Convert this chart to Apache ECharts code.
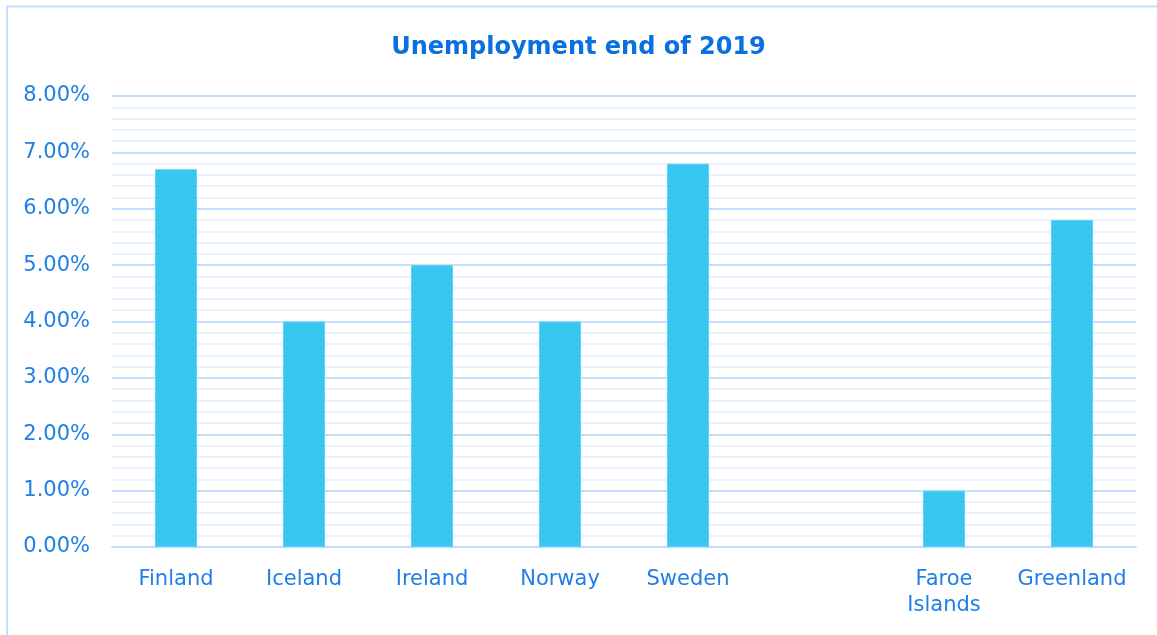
<!DOCTYPE html>
<html>
<head>
<meta charset="utf-8">
<script src="https://cdn.jsdelivr.net/npm/echarts@6/dist/echarts.min.js"></script>
<style>
  html, body { margin: 0; padding: 0; background: #fff; }
  #box { width: 1157px; height: 635px; }
</style>
</head>
<body>
<div id="box"></div>
<script>
// values
const countries = ['Finland', 'Iceland', 'Ireland', 'Norway', 'Sweden', '', 'Faroe Islands', 'Greenland'];
const unemployment = [0.067, 0.04, 0.05, 0.04, 0.068, null, 0.01, 0.058];

const blue = '#1f7fe6';
const chart = echarts.init(document.getElementById('box'));

chart.setOption({
  animation: false,
  title: {
    text: 'Unemployment end of 2019',
    left: 'center',
    top: 31,
    textStyle: { color: '#0a6fe0', fontSize: 24, fontWeight: 'bold', fontFamily: 'DejaVu Sans' }
  },
  graphic: [{
    type: 'rect',
    shape: { x: 7, y: 6.5, width: 1160, height: 640 },
    style: { fill: 'none', stroke: '#c3dffd', lineWidth: 2 },
    silent: true
  }],
  grid: { left: 112, right: 21, top: 96, bottom: 88 },
  xAxis: {
    type: 'category',
    data: countries,
    axisTick: { show: false },
    axisLine: { lineStyle: { color: '#c3dffd', width: 2 } },
    axisLabel: {
      interval: 0,
      color: blue,
      fontSize: 21,
      fontFamily: 'DejaVu Sans',
      margin: 20,
      lineHeight: 26,
      formatter: v => v.replace(' ', '\n')
    }
  },
  yAxis: {
    type: 'value',
    min: 0,
    max: 0.08,
    interval: 0.01,
    axisLine: { show: false },
    axisTick: { show: false },
    axisLabel: {
      color: blue,
      fontSize: 21,
      fontFamily: 'DejaVu Sans',
      margin: 22,
      formatter: v => (v * 100).toFixed(2) + '%'
    },
    splitLine: { lineStyle: { color: '#c3dffd', width: 2 } },
    minorTick: { show: false, splitNumber: 5 },
    minorSplitLine: { show: true, lineStyle: { color: '#eaf3fd', width: 2 } }
  },
  series: [{
    type: 'bar',
    data: unemployment,
    barWidth: 42,
    itemStyle: { color: '#36c6f0', borderColor: '#5dd2f4', borderWidth: 1 }
  }]
});
</script>
</body>
</html>
